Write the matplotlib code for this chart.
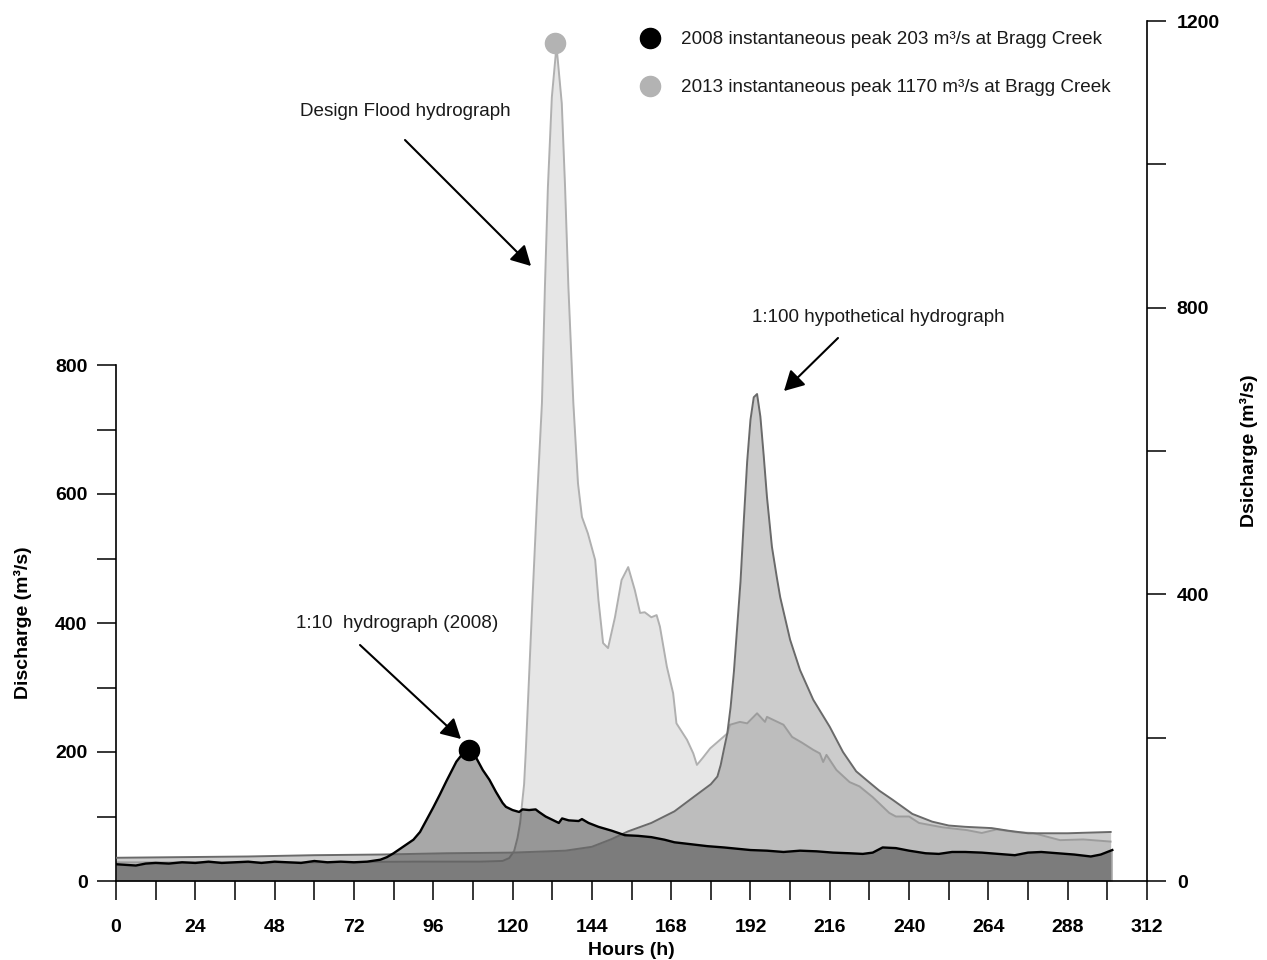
import numpy as np
import matplotlib
matplotlib.use("Agg")
import matplotlib.pyplot as plt
from matplotlib.ticker import MultipleLocator
from matplotlib.lines import Line2D

plt.rcParams['font.family'] = ['Liberation Sans', 'DejaVu Sans']
plt.rcParams['font.weight'] = 'bold'

# ---------------- data ----------------
# 1:10 hydrograph (2008), left axis (m3/s)
hours_2008 = [0, 3, 6, 9, 12, 16, 20, 24, 28, 32, 36, 40, 44, 48, 52, 56, 60, 64, 68, 72, 76, 80,
              82, 84, 86, 88, 90, 92, 94, 96, 98, 100, 103, 105, 106.8, 109, 111, 113, 115, 117,
              118, 120, 122, 123, 125, 127, 128, 130, 132, 134, 135, 137, 140, 141, 143, 146, 150,
              154, 158, 162, 166, 169, 174, 179, 184, 188, 192, 197, 202, 207, 212, 217, 222, 226,
              229, 232, 236, 240, 245, 249, 253, 257, 262, 267, 272, 276, 280, 285, 290, 295, 298, 301.5]
q_2008 = [26, 25, 24, 27, 28, 27, 29, 28, 30, 28, 29, 30, 28, 30, 29, 28, 31, 29, 30, 29, 30, 33,
          37, 43, 50, 57, 64, 76, 95, 114, 134, 155, 185, 198, 203, 191, 172, 157, 138, 121,
          115, 110, 107, 111, 110, 111, 107, 100, 95, 90, 97, 94, 93, 96, 90, 84, 78,
          71, 70, 68, 64, 60, 57, 54, 52, 50, 48, 47, 45, 47, 46, 44, 43, 42,
          44, 52, 51, 47, 43, 42, 45, 45, 44, 42, 40, 44, 45, 43, 41, 38, 41, 48]

# 1:100 hypothetical hydrograph, left axis (m3/s)
hours_100 = [0, 20, 40, 60, 80, 100, 120, 136, 144, 150, 155, 162, 169, 175, 180, 182, 183, 184,
             185, 186, 187, 188, 189, 190, 191, 192, 193, 194, 195, 196, 197, 198.5, 200, 201,
             204, 207, 211, 216, 220, 224, 227, 231, 235, 241, 247, 252, 257, 265, 270, 276, 288, 301]
q_100 = [36, 37, 38, 40, 41, 43, 44, 47, 53, 65, 77, 90, 108, 131, 150, 162, 180, 205,
         229, 270, 325, 395, 465, 560, 650, 715, 750, 755, 720, 660, 595, 518, 470, 440,
         374, 327, 281, 239, 200, 170, 157, 140, 126, 104, 92, 86, 84, 82, 78, 74, 74, 76]

# Design Flood hydrograph (2013), right axis (m3/s)
hours_design = [0, 30, 60, 90, 110, 117, 119, 120.5, 121.5, 122.3, 123, 123.5, 124, 124.7, 126,
                127.4, 128.9, 129.8, 130.7, 131.9, 133.3, 134.9, 135.9, 136.9, 138.4, 139.8,
                141, 142.8, 145, 146, 147.4, 148.9, 151, 153, 155, 157, 158.6, 160, 162, 163.6,
                164.6, 166.7, 168.6, 169.6, 172.8, 174.7, 175.8, 177.6, 179.8, 181.8, 183.8,
                185, 185.8, 188.8, 191, 194, 196.4, 197, 202, 204.6, 207.6, 211, 213, 214, 215,
                218, 222, 225, 229, 234, 236, 240, 243, 250, 257.5, 262, 266.5, 272.6, 277.5,
                285.7, 292.7, 301]
q_design = [26, 26, 26, 27, 27, 28, 32, 42, 60, 81, 113, 135, 180, 253, 390,
            530, 667, 829, 968, 1094, 1165, 1085, 968, 829, 667, 555,
            508, 485, 448, 392, 332, 325, 368, 420, 438, 406, 374, 375, 368, 371,
            355, 299, 262, 220, 197, 178, 162, 172, 185, 193, 201,
            206, 218, 222, 220, 234, 222, 229, 218, 201, 193, 183, 178, 166, 176,
            155, 138, 132, 117, 95, 90, 90, 81, 75, 71, 67, 72, 68, 67,
            57, 58, 55]

peak_2008 = (106.8, 203)
peak_2013 = (132.8, 1170)

x_ticks = list(range(0, 313, 24))
left_ticks = [0, 200, 400, 600, 800]
right_ticks = [0, 400, 800, 1200]

legend_labels = ["2008 instantaneous peak 203 m\u00b3/s at Bragg Creek",
                 "2013 instantaneous peak 1170 m\u00b3/s at Bragg Creek"]

# ---------------- figure ----------------
W, H = 1267, 960
fig = plt.figure(figsize=(W / 100, H / 100), dpi=100)


def fp(x, y):
    return (x / W, 1 - y / H)


ax = fig.add_axes([116 / W, 1 - 881 / H, 1031 / W, 860 / H])
ax2 = ax.twinx()
ax.set_zorder(ax2.get_zorder() + 1)
ax.patch.set_visible(False)

ax.set_xlim(0, 312)
ax.set_ylim(0, 800 * 860 / 516)
ax2.set_ylim(0, 1200)

# design flood (right axis)
ax2.fill_between(hours_design, 0, q_design, color='#e6e6e6', lw=0, zorder=1)
ax2.plot(hours_design, q_design, color='#b0b0b0', lw=1.4, zorder=2)
ax2.plot([peak_2013[0]], [peak_2013[1]], 'o', color='#b3b3b3', ms=14.5, zorder=5, clip_on=False)

# 1:100 and 1:10 (left axis)
ax.fill_between(hours_100, 0, q_100, color='#808080', alpha=0.4, lw=0, zorder=1)
ax.fill_between(hours_2008, 0, q_2008, color='black', alpha=0.34, lw=0, zorder=2)
ax.plot(hours_100, q_100, color='#6a6a6a', lw=1.4, zorder=3)
ax.plot(hours_2008, q_2008, color='black', lw=1.7, zorder=4)
ax.plot([peak_2008[0]], [peak_2008[1]], 'o', color='black', ms=14.5, zorder=6)

# spines
for s in ['top', 'right']:
    ax.spines[s].set_visible(False)
for s in ['top', 'left', 'bottom']:
    ax2.spines[s].set_visible(False)
ax.spines['left'].set_bounds(0, 800)
for sp in [ax.spines['left'], ax.spines['bottom'], ax2.spines['right']]:
    sp.set_linewidth(1.2)

ax.set_xticks(x_ticks)
ax.xaxis.set_minor_locator(MultipleLocator(12))
ax.set_yticks(left_ticks)
ax.set_yticks([100, 300, 500, 700], minor=True)
ax2.set_yticks(right_ticks)
ax2.set_yticks([200, 600, 1000], minor=True)

ax.tick_params(axis='both', which='both', direction='out', length=13.5, width=1.1, labelsize=14)
ax.tick_params(axis='x', pad=14)
ax.tick_params(axis='y', pad=7)
ax2.tick_params(axis='y', which='both', direction='out', length=13.5, width=1.1, labelsize=14, pad=8)

ax.set_xlabel("Hours (h)", fontsize=14, fontweight='bold')
ax.xaxis.set_label_coords((631 - 116) / 1031, (881 - 942) / 860)
ax.set_ylabel("Discharge (m\u00b3/s)", fontsize=14, fontweight='bold')
ax.yaxis.set_label_coords((32 - 116) / 1031, (881 - 623) / 860)
ax2.set_ylabel("Dsicharge (m\u00b3/s)", fontsize=14, fontweight='bold')
ax2.yaxis.set_label_coords((1240 - 116) / 1031, (881 - 451) / 860)

# annotations
txt_kw = dict(fontsize=13.6, fontweight='normal', color='#1a1a1a', va='center', ha='left')
fig.text(*fp(300, 112), "Design Flood hydrograph", **txt_kw)
fig.text(*fp(752, 317), "1:100 hypothetical hydrograph", **txt_kw)
fig.text(*fp(296, 624), "1:10  hydrograph (2008)", **txt_kw)

arrow_kw = dict(arrowstyle='-|>,head_length=0.4,head_width=0.22', mutation_scale=30,
                lw=1.5, color='black', shrinkA=0, shrinkB=0)
for tail, head in [((405, 140), (531, 266)), ((838, 338), (784, 391)), ((360, 645), (461, 739))]:
    ax.annotate('', xy=fp(*head), xycoords='figure fraction',
                xytext=fp(*tail), textcoords='figure fraction', arrowprops=arrow_kw)

# legend (manual)
for (yy, col, lab) in [(38, 'black', legend_labels[0]), (86, '#b3b3b3', legend_labels[1])]:
    fig.add_artist(Line2D([650 / W], [1 - yy / H], marker='o', ms=14.5, color=col,
                          ls='none', transform=fig.transFigure))
    fig.text(*fp(681, yy + 1), lab, **txt_kw)

fig.savefig("out.png", dpi=100)
